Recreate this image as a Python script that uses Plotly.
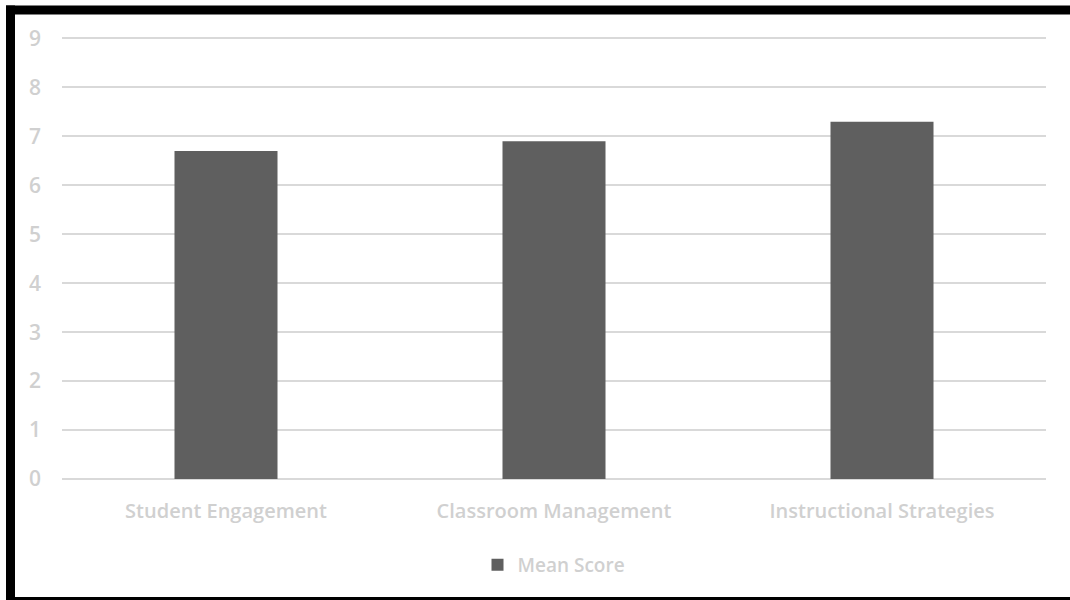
import plotly.graph_objects as go

# Survey results: mean score per teaching dimension
categories = ["Student Engagement", "Classroom Management", "Instructional Strategies"]
mean_scores = [6.7, 6.9, 7.3]
y_ticks = [0, 1, 2, 3, 4, 5, 6, 7, 8, 9]

W, H = 1070, 600
Y_TOP = 9.05            # a little headroom so the gridline at 9 is drawn
L, R, B = 62, 24, 121
unit = 49               # pixels per score point
ph = unit * Y_TOP
T = H - B - ph
pw = W - L - R

BAR = "#5f5f5f"
TXT = "#d0d0d0"
GRID = "#d9d9d9"
FONT = "'Open Sans', Lato, sans-serif"


def px_x(x):
    return (x - L) / pw


def px_y(y):
    return (H - B - y) / ph


fig = go.Figure()
fig.add_trace(go.Bar(
    x=categories,
    y=mean_scores,
    name="Mean Score",
    marker=dict(color=BAR, line=dict(width=0)),
    showlegend=True,
))

# Black frame on the left, top and bottom edges of the card
frame = [
    (6, 5, 15, 600),
    (6, 5, 1080, 14),
    (6, 597, 1080, 606),
]
shapes = [
    dict(type="rect", xref="paper", yref="paper",
         x0=px_x(a), x1=px_x(c), y0=px_y(d), y1=px_y(b),
         fillcolor="black", line=dict(width=0), layer="above")
    for a, b, c, d in frame
]

fig.update_layout(
    width=W, height=H,
    margin=dict(l=L, r=R, t=T, b=B, autoexpand=False),
    paper_bgcolor="white",
    plot_bgcolor="white",
    bargap=0.686,
    font=dict(family=FONT, color=TXT, size=20, weight=600),
    shapes=shapes,
    legend=dict(
        orientation="h",
        x=0.5, xanchor="center",
        y=px_y(565), yanchor="middle",
        font=dict(family=FONT, color=TXT, size=19, weight=600),
        bgcolor="rgba(0,0,0,0)",
        itemwidth=30,
    ),
    xaxis=dict(
        showgrid=False,
        showline=False,
        zeroline=False,
        ticks="",
        tickfont=dict(family=FONT, color=TXT, size=20, weight=600),
        ticklabelstandoff=18,
    ),
    yaxis=dict(
        range=[0, Y_TOP],
        tickvals=y_ticks,
        showgrid=True,
        gridcolor=GRID,
        gridwidth=1.5,
        zeroline=True,
        zerolinecolor=GRID,
        zerolinewidth=1.5,
        showline=False,
        ticks="",
        tickfont=dict(family=FONT, color=TXT, size=21, weight=600),
        ticklabelstandoff=20,
    ),
)

fig.write_html("out.html")
